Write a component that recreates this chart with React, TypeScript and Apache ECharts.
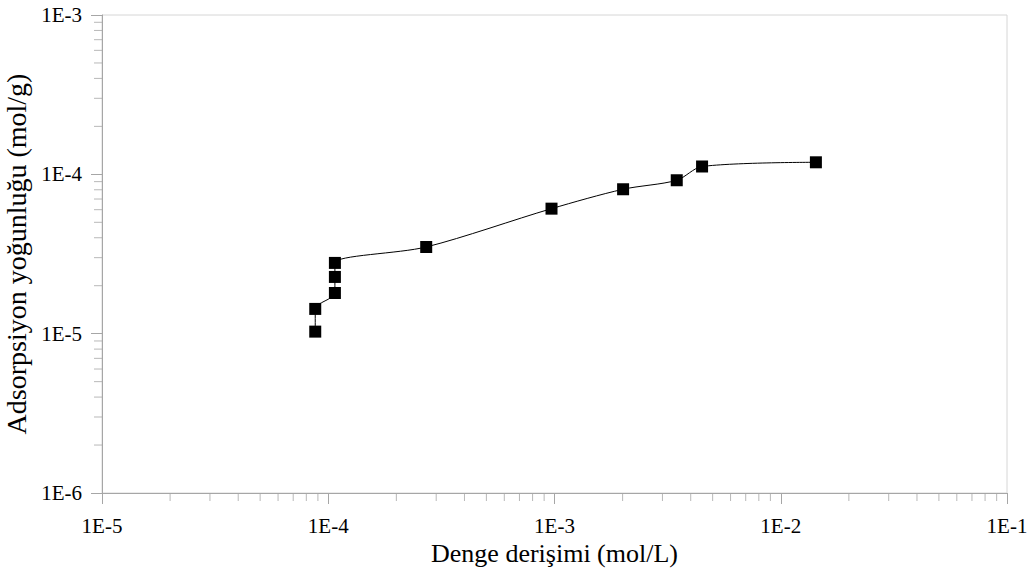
import React, { useEffect, useRef } from "react";
import * as echarts from "echarts";

// Measured points (equilibrium concentration mol/L, adsorption density mol/g)
const concentration = [8.76e-5, 8.76e-5, 1.07e-4, 1.07e-4, 1.07e-4, 2.71e-4, 9.7e-4, 2.01e-3, 3.47e-3, 4.49e-3, 1.43e-2];
const adsorption = [1.03e-5, 1.43e-5, 1.8e-5, 2.27e-5, 2.78e-5, 3.5e-5, 6.09e-5, 8.06e-5, 9.18e-5, 1.12e-4, 1.19e-4];

const xTickLabels = ["1E-5", "1E-4", "1E-3", "1E-2", "1E-1"];
const yTickLabels = ["1E-6", "1E-5", "1E-4", "1E-3"];
const xDecades = [-5, -4, -3, -2];
const yDecades = [-6, -5, -4];
const minorSteps = [2, 3, 4, 5, 6, 7, 8, 9];

const X_MIN = 1e-5;
const X_MAX = 1e-1;
const Y_MIN = 1e-6;
const Y_MAX = 1e-3;

const xTitle = "Denge derişimi (mol/L)";
const yTitle = "Adsorpsiyon yoğunluğu (mol/g)";

const FONT = "Liberation Serif";
const AXIS_COLOR = "#a6a6a6";
const TICK_FONT = 21;

export default function App() {
  const ref = useRef<HTMLDivElement>(null);
  useEffect(() => {
    if (!ref.current) return;
    const chart = echarts.init(ref.current, undefined, { renderer: "svg" });
    const points = concentration.map((c, i) => [c, adsorption[i]]);
    const xMinor: number[][] = [];
    xDecades.forEach((d) => minorSteps.forEach((k) => xMinor.push([k * Math.pow(10, d), Y_MIN])));
    const yMinor: number[][] = [];
    yDecades.forEach((d) => minorSteps.forEach((k) => yMinor.push([X_MIN, k * Math.pow(10, d)])));
    const labelFor = (labels: string[]) => (v: number) => {
      const e = Math.round(Math.log10(v));
      const s = "1E" + e;
      return labels.indexOf(s) >= 0 ? s : "";
    };
    chart.setOption({
      animation: false,
      grid: {
        left: 102,
        right: 25,
        top: 15,
        bottom: 86,
        outerBoundsMode: "none",
        show: true,
        borderColor: "#d6d6d6",
        borderWidth: 1,
      },
      xAxis: {
        type: "log",
        logBase: 10,
        min: X_MIN,
        max: X_MAX,
        name: xTitle,
        nameLocation: "middle",
        nameGap: 43,
        nameTextStyle: { fontFamily: FONT, fontSize: 26, color: "#000" },
        axisLine: { show: true, lineStyle: { color: AXIS_COLOR, width: 1 } },
        axisTick: { show: true, inside: false, length: 11, lineStyle: { color: AXIS_COLOR, width: 1 } },
        axisLabel: {
          show: true,
          fontFamily: FONT,
          fontSize: TICK_FONT,
          color: "#000",
          margin: 22,
          formatter: labelFor(xTickLabels),
        },
        splitLine: { show: false },
      },
      yAxis: {
        type: "log",
        logBase: 10,
        min: Y_MIN,
        max: Y_MAX,
        name: yTitle,
        nameLocation: "middle",
        nameGap: 66,
        nameTextStyle: { fontFamily: FONT, fontSize: 28, color: "#000" },
        axisLine: { show: true, lineStyle: { color: AXIS_COLOR, width: 1 } },
        axisTick: { show: true, inside: false, length: 11, lineStyle: { color: AXIS_COLOR, width: 1 } },
        axisLabel: {
          show: true,
          fontFamily: FONT,
          fontSize: TICK_FONT,
          color: "#000",
          margin: 20,
          formatter: labelFor(yTickLabels),
        },
        splitLine: { show: false },
      },
      series: [
        {
          type: "scatter",
          data: xMinor,
          symbol: "rect",
          symbolSize: [1, 8],
          symbolOffset: [0, 4],
          itemStyle: { color: AXIS_COLOR },
          silent: true,
          clip: false,
          z: 1,
        },
        {
          type: "scatter",
          data: yMinor,
          symbol: "rect",
          symbolSize: [8, 1],
          symbolOffset: [-4, 0],
          itemStyle: { color: AXIS_COLOR },
          silent: true,
          clip: false,
          z: 1,
        },
        {
          type: "line",
          data: points,
          smooth: 0.3,
          symbol: "rect",
          symbolSize: 12,
          showSymbol: true,
          lineStyle: { color: "#000", width: 1 },
          itemStyle: { color: "#000" },
          z: 3,
        },
      ],
    });
    return () => chart.dispose();
  }, []);
  return <div ref={ref} style={{ width: 1032, height: 579, position: "absolute", left: 0, top: 0 }} />;
}
